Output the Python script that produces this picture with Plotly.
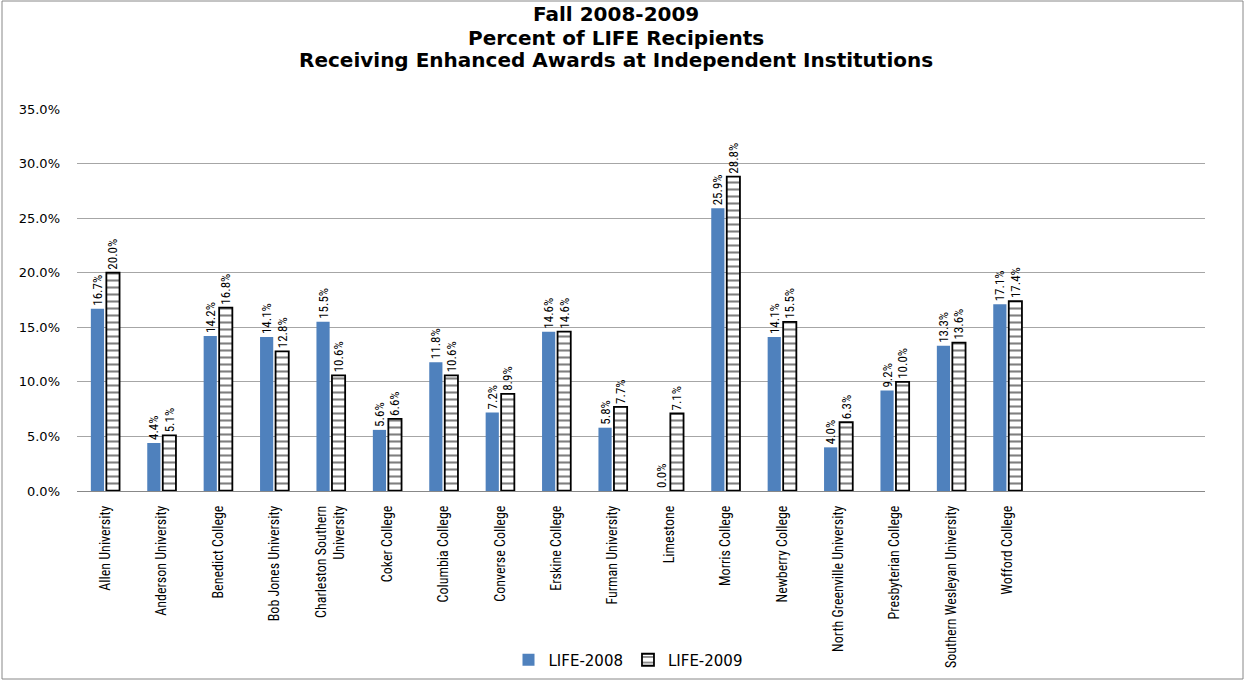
import plotly.graph_objects as go

institutions = [
    "Allen University", "Anderson University", "Benedict College", "Bob Jones University",
    "Charleston Southern<br>University", "Coker College", "Columbia College", "Converse College",
    "Erskine College", "Furman University", "Limestone", "Morris College", "Newberry College",
    "North Greenville University", "Presbyterian College", "Southern Wesleyan University",
    "Wofford College",
]
life_2008 = [16.7, 4.4, 14.2, 14.1, 15.5, 5.6, 11.8, 7.2, 14.6, 5.8, 0.0, 25.9, 14.1, 4.0, 9.2, 13.3, 17.1]
life_2009 = [20.0, 5.1, 16.8, 12.8, 10.6, 6.6, 10.6, 8.9, 14.6, 7.7, 7.1, 28.8, 15.5, 6.3, 10.0, 13.6, 17.4]
y_ticks = [0, 5, 10, 15, 20, 25, 30, 35]
title_lines = ["Fall 2008-2009", "Percent of LIFE Recipients",
               "Receiving Enhanced Awards at Independent Institutions"]

narrow = "Liberation Sans Narrow, Roboto Condensed, Arial Narrow, Liberation Sans, sans-serif"
wide = "DejaVu Sans, Verdana, sans-serif"
label_font = dict(family=narrow, size=13, color="black")

fig = go.Figure()
fig.add_trace(go.Bar(
    x=institutions, y=life_2008, name="LIFE-2008",
    marker=dict(color="#4F81BD", line=dict(width=0)),
    text=[f"{v:.1f}%" for v in life_2008], textposition="outside", textangle=-90,
    textfont=label_font, constraintext="none", cliponaxis=False,
))
fig.add_trace(go.Bar(
    x=institutions, y=life_2009, name="LIFE-2009",
    marker=dict(color="white", line=dict(color="black", width=1.8),
                pattern=dict(shape="-", fgcolor="black", bgcolor="white", size=7, solidity=0.3)),
    text=[f"{v:.1f}%" for v in life_2009], textposition="outside", textangle=-90,
    textfont=label_font, constraintext="none", cliponaxis=False,
))

W, H = 1246, 681
L, R, T, B = 77, 41, 109, 190
pw, ph = W - L - R, H - T - B

def px_x(p):
    return (p - L) / pw

def px_y(p):
    return (H - B - p) / ph

title_y = [14, 38, 60]
annotations = [
    dict(text=f"<b>{t}</b>", xref="paper", yref="paper", x=px_x(616), y=px_y(yy),
         xanchor="center", yanchor="middle", showarrow=False,
         font=dict(family=wide, size=20, color="black"))
    for t, yy in zip(title_lines, title_y)
]

fig.update_layout(
    width=W, height=H,
    margin=dict(l=L, r=R, t=T, b=B, autoexpand=False),
    paper_bgcolor="white", plot_bgcolor="white",
    barmode="group", bargap=0.45, bargroupgap=0.15,
    annotations=annotations,
    xaxis=dict(
        type="category", range=[-0.5, 19.5], tickangle=-90,
        tickfont=dict(family=narrow, size=14, color="black"),
        showgrid=False, showline=True, linecolor="#888888", linewidth=1,
        ticks="", ticklabelstandoff=8, automargin=False,
    ),
    yaxis=dict(
        range=[0, 35], tickvals=y_ticks, ticktext=[f"{v:.1f}%" for v in y_ticks],
        tickfont=dict(family=wide, size=13, color="black"),
        showgrid=True, gridcolor="#a6a6a6", gridwidth=1, zeroline=False, showline=False,
        ticks="", ticklabelstandoff=16, automargin=False,
    ),
    legend=dict(
        orientation="h", x=px_x(628), xanchor="center", y=px_y(660), yanchor="middle",
        font=dict(family=wide, size=15, color="black"),
        itemwidth=30, tracegroupgap=0,
    ),
    showlegend=True,
    shapes=[dict(type="rect", xref="paper", yref="paper",
                 x0=px_x(2), x1=px_x(1243), y0=px_y(679), y1=px_y(1),
                 line=dict(color="#888888", width=1), fillcolor="rgba(0,0,0,0)", layer="below")],
)

fig.write_html("out.html", config={"displayModeBar": False},
               post_script="document.body.style.margin='0';document.body.style.overflow='hidden';")
